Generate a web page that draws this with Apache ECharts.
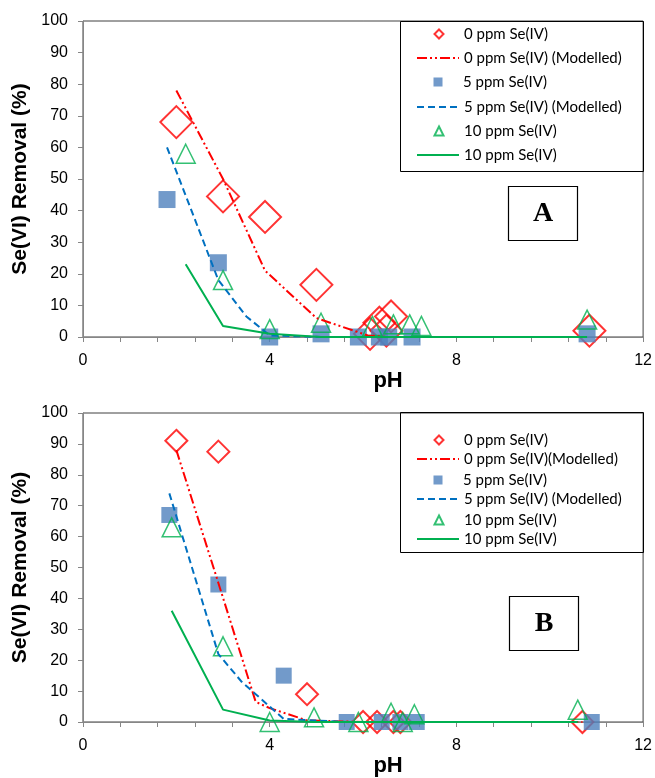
<!DOCTYPE html>
<html><head><meta charset="utf-8">
<script src="https://cdn.jsdelivr.net/npm/echarts@6/dist/echarts.min.js"></script>
<style>html,body{margin:0;padding:0;background:#fff}#c{width:655px;height:778px}</style>
</head><body><div id="c"></div>
<script>
// ---------- Panel A data ----------
const phA_0 = [2.0, 3.0, 3.9, 5.0, 6.15, 6.35, 6.5, 6.6, 10.85];
const remA_0 = [68, 44.5, 38, 16.5, 1, 4.5, 2, 6.5, 2];
const phA_0m = [2.0, 3.0, 3.9, 5.0, 6.1, 6.5, 10.85];
const remA_0m = [78, 50, 21, 6, 0.5, 0, 0];
const phA_5 = [1.8, 2.9, 4.0, 5.1, 5.9, 6.35, 6.55, 7.05, 10.8];
const remA_5 = [43.5, 23.5, 0, 1, 0, 0, 0, 0, 1];
const phA_5m = [1.8, 2.9, 3.5, 4.0, 5.1];
const remA_5m = [60, 18, 6.5, 0.5, 0];
const phA_10 = [2.2, 3.0, 4.0, 5.1, 6.2, 6.65, 7.0, 7.25, 10.8];
const remA_10 = [58, 18, 2.5, 4.5, 3.5, 4, 4, 3.5, 5.5];
const phA_10m = [2.2, 3.0, 4.0, 5.1, 10.8];
const remA_10m = [23, 3.5, 1, 0, 0];
// ---------- Panel B data ----------
const phB_0 = [2.0, 2.9, 4.8, 6.0, 6.3, 6.65, 6.8, 10.7];
const remB_0 = [91, 87.5, 9, 0, 0, 0, 0, 0];
const phB_0m = [2.0, 2.9, 3.7, 4.0, 4.8, 6.0, 10.7];
const remB_0m = [88, 45, 6.5, 4.5, 0.5, 0, 0];
const phB_5 = [1.85, 2.9, 4.3, 5.65, 6.4, 6.8, 7.15, 10.9];
const remB_5 = [67, 44.5, 15, 0, 0, 0, 0, 0];
const phB_5m = [1.85, 2.9, 3.4, 3.7, 4.3, 5.65];
const remB_5m = [74, 22, 13, 9, 1, 0];
const phB_10 = [1.9, 3.0, 4.0, 4.95, 5.9, 6.6, 6.85, 7.1, 10.6];
const remB_10 = [63, 24.5, 0, 1.5, 0, 3, 0, 2.5, 4];
const phB_10m = [1.9, 3.0, 4.0, 4.95, 10.6];
const remB_10m = [36, 4, 0.5, 0, 0];

const namesA = ['0 ppm Se(IV)', '0 ppm Se(IV) (Modelled)', '5 ppm Se(IV)', '5 ppm Se(IV) (Modelled)', '10 ppm Se(IV)', '10 ppm Se(IV) '];
const namesB = ['0 ppm Se(IV)', '0 ppm Se(IV)(Modelled)', '5 ppm Se(IV)', '5 ppm Se(IV) (Modelled)', '10 ppm Se(IV)', '10 ppm Se(IV) '];
const xTickLabels = [0, 4, 8, 12];

function pts(xs, ys) { return xs.map((x, i) => [x, ys[i]]); }

const RED = '#FF0000', BLUE_SQ = '#4F81BD', BLUE_L = '#0070C0', GREEN = '#00B050';
const TF = 'Liberation Sans';

function xAxisCfg(g) {
  return {
    type: 'value', gridIndex: g, min: 0, max: 12, interval: 0.8,
    name: 'pH', nameLocation: 'middle', nameGap: 33,
    nameTextStyle: { fontFamily: TF, fontWeight: 'bold', fontSize: 22, color: '#000', padding: [0, 0, 0, 50] },
    axisLine: { show: true, onZero: false, lineStyle: { color: '#868686', width: 1 } },
    axisTick: { show: true, inside: false, length: 5, lineStyle: { color: '#868686' } },
    axisLabel: {
      fontFamily: TF, fontSize: 16, color: '#000', margin: 16, showMaxLabel: true, showMinLabel: true,
      formatter: v => { const m = xTickLabels.find(t => Math.abs(t - v) < 1e-6); return m === undefined ? '' : String(m); }
    },
    splitLine: { show: false }
  };
}
function yAxisCfg(g) {
  return {
    type: 'value', gridIndex: g, min: 0, max: 100, interval: 10,
    name: 'Se(VI) Removal (%)', nameLocation: 'middle', nameGap: 52,
    nameTextStyle: { fontFamily: TF, fontWeight: 'bold', fontSize: 21, color: '#000' },
    axisLine: { show: true, lineStyle: { color: '#868686', width: 1 } },
    axisTick: { show: true, length: 5, lineStyle: { color: '#868686' } },
    axisLabel: { fontFamily: TF, fontSize: 16, color: '#000', margin: 15 },
    splitLine: { show: false }
  };
}
function scat(name, g, xs, ys, symbol, size, itemStyle) {
  return { type: 'scatter', name, xAxisIndex: g, yAxisIndex: g, data: pts(xs, ys), symbol, symbolSize: size, itemStyle, silent: true };
}
function line(name, g, xs, ys, color, type) {
  return { type: 'line', name, xAxisIndex: g, yAxisIndex: g, data: pts(xs, ys), symbol: 'none', showSymbol: false, clip: false,
    lineStyle: { color, width: 2, type }, itemStyle: { color }, silent: true };
}
const hollowRed = { color: 'rgba(255,255,255,0)', borderColor: RED, borderWidth: 2 };
const hollowGreen = { color: 'rgba(255,255,255,0)', borderColor: GREEN, borderWidth: 1.5 };
const solidBlue = { color: BLUE_SQ, borderWidth: 0 };
const dashDotDot = [10, 3, 2, 3, 2, 3];
const dashed = [7, 4];

const legTextStyle = { fontFamily: 'Lato', fontSize: 15, color: '#000', lineHeight: 18 };
function legendRow(name, top, isLine) {
  if (isLine) {
    return { orient: 'horizontal', left: 416, top, padding: 0, itemWidth: 42, itemHeight: 9, selectedMode: false,
      data: [{ name, itemStyle: { color: 'rgba(0,0,0,0)', borderColor: 'rgba(0,0,0,0)', borderWidth: 0 } }],
      textStyle: legTextStyle };
  }
  return { orient: 'horizontal', left: 433.5, top, padding: 0, itemWidth: 9, itemHeight: 9, selectedMode: false,
    data: [name], textStyle: Object.assign({}, legTextStyle, { padding: [0, 0, 0, 15.5] }) };
}
const rowTopsA = [25, 49, 73, 98, 122, 146];
const rowTopsB = [431, 450, 471, 490, 511, 530];
const legends = [];
namesA.forEach((n, i) => legends.push(legendRow(n, rowTopsA[i], i % 2 === 1)));
namesB.forEach((n, i) => legends.push(legendRow(n, rowTopsB[i], i % 2 === 1)));

const option = {
  animation: false,
  backgroundColor: '#fff',
  grid: [
    { left: 83, right: 11, top: 21, height: 316, show: true, borderColor: '#404040', borderWidth: 1 },
    { left: 83, right: 11, top: 413, height: 317, show: true, borderColor: '#404040', borderWidth: 1 }
  ],
  xAxis: [xAxisCfg(0), xAxisCfg(1)],
  yAxis: [yAxisCfg(0), yAxisCfg(1)],
  legend: legends,
  series: [
    scat(namesA[0], 0, phA_0, remA_0, 'diamond', 32, hollowRed),
    line(namesA[1], 0, phA_0m, remA_0m, RED, dashDotDot),
    scat(namesA[2], 0, phA_5, remA_5, 'rect', 17, solidBlue),
    line(namesA[3], 0, phA_5m, remA_5m, BLUE_L, dashed),
    scat(namesA[4], 0, phA_10, remA_10, 'triangle', 19, hollowGreen),
    line(namesA[5], 0, phA_10m, remA_10m, GREEN, 'solid'),
    scat(namesB[0], 1, phB_0, remB_0, 'diamond', 22, hollowRed),
    line(namesB[1], 1, phB_0m, remB_0m, RED, dashDotDot),
    scat(namesB[2], 1, phB_5, remB_5, 'rect', 16, solidBlue),
    line(namesB[3], 1, phB_5m, remB_5m, BLUE_L, dashed),
    scat(namesB[4], 1, phB_10, remB_10, 'triangle', 19, hollowGreen),
    line(namesB[5], 1, phB_10m, remB_10m, GREEN, 'solid')
  ],
  graphic: [
    { type: 'rect', shape: { x: 400.5, y: 21.5, width: 243, height: 150 }, style: { fill: 'none', stroke: '#000', lineWidth: 1 }, z: 100 },
    { type: 'rect', shape: { x: 400.5, y: 412.5, width: 243, height: 140 }, style: { fill: 'none', stroke: '#000', lineWidth: 1 }, z: 100 },
    { type: 'rect', shape: { x: 508.5, y: 186.5, width: 69, height: 54 }, style: { fill: '#fff', stroke: '#000', lineWidth: 1.2 }, z: 100 },
    { type: 'text', x: 543, y: 214, style: { text: 'A', fontFamily: 'Liberation Serif', fontWeight: 'bold', fontSize: 28, fill: '#000', align: 'center', verticalAlign: 'middle' }, z: 101 },
    { type: 'rect', shape: { x: 509.5, y: 596.5, width: 69, height: 54 }, style: { fill: '#fff', stroke: '#000', lineWidth: 1.2 }, z: 100 },
    { type: 'text', x: 544, y: 624, style: { text: 'B', fontFamily: 'Liberation Serif', fontWeight: 'bold', fontSize: 28, fill: '#000', align: 'center', verticalAlign: 'middle' }, z: 101 }
  ]
};
const chart = echarts.init(document.getElementById('c'), null, { renderer: 'canvas' });
chart.setOption(option);
</script></body></html>
